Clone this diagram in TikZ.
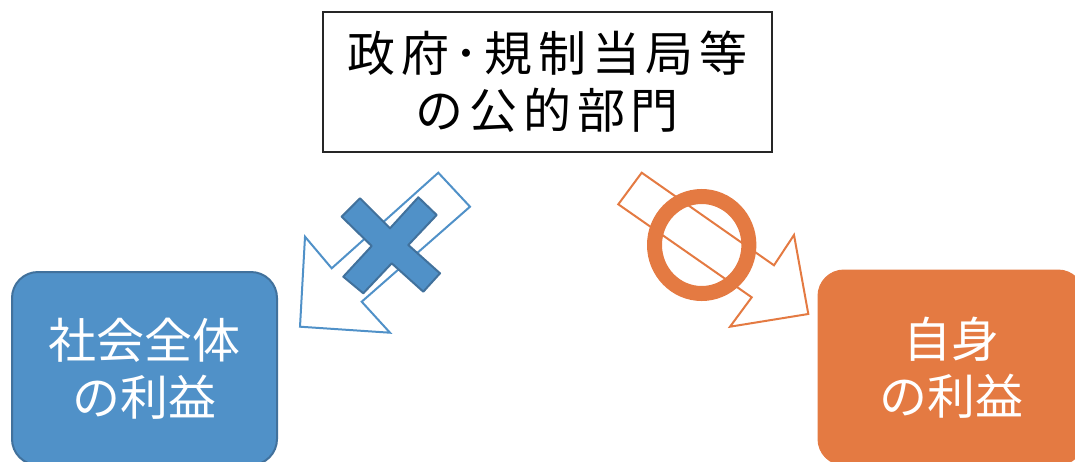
\documentclass[tikz,border=0pt]{standalone}
\usepackage{fontspec}
\newfontfamily\jp{Noto Sans CJK JP}
\newfontfamily\jpwide[LetterSpace=12]{Noto Sans CJK JP}
\definecolor{bluefill}{RGB}{80,145,200}
\definecolor{blueline}{RGB}{65,113,156}
\definecolor{orange}{RGB}{228,122,66}
\tikzset{
  textbig/.style={font=\jp\fontsize{48}{57}\selectfont, align=center},
  bluebox/.style={rounded corners=26pt, draw=blueline, line width=2pt, fill=bluefill, text=white, textbig},
  orangebox/.style={rounded corners=26pt, draw=orange, line width=1pt, fill=orange, text=white, textbig},
  topbox/.style={draw=black!85, line width=2pt, fill=white, text=black, align=center,
    font=\jpwide\fontsize{48}{57}\selectfont},
  bluearrow/.style={draw=bluefill, line width=2pt, fill=white, line join=miter},
  orangearrow/.style={draw=orange, line width=2pt, fill=white, line join=miter},
  crossmark/.style={draw=blueline, line width=2pt, fill=bluefill, line join=round},
}
\begin{document}
\begin{tikzpicture}[x=1pt,y=-1pt]
\useasboundingbox (0,0) rectangle (1075,461);
\clip (0,0) rectangle (1075,461);
% top box
\node[topbox, minimum width=449pt, minimum height=140pt] (gov) at (547.5,82)
  {政府･規制当局等\\の公的部門};
% bottom boxes
\node[bluebox, minimum width=265pt, minimum height=193pt] (soc) at (144.5,368.5) {社会全体\\の利益};
\node[orangebox, minimum width=266pt, minimum height=195pt] (self) at (951,367.5) {自身\\の利益};
% blue arrow
\draw[bluearrow] (438.3,172.7) -- (470,206.7) -- (361.7,301.7) -- (390,332.7)
  -- (300,326.7) -- (305,236.7) -- (331.7,268.3) -- cycle;
% cross
\draw[crossmark] (341.7,216.7) -- (360,198.3) -- (390,228.3) -- (418.3,197.3)
  -- (436.7,215) -- (408.3,245) -- (440,273.3) -- (423.3,291.7) -- (391.7,263.3)
  -- (363.3,293.3) -- (343.3,276.7) -- (371.7,246) -- cycle;
% orange arrow
\draw[orangearrow] (641.7,172.7) -- (774,265.3) -- (794,235) -- (808.3,314)
  -- (730,326.7) -- (751.7,297.3) -- (618.3,204.3) -- cycle;
% ring
\draw[orange, line width=15pt] (701.7,245) ellipse [x radius=47.2pt, y radius=48.5pt];
\end{tikzpicture}
\end{document}
